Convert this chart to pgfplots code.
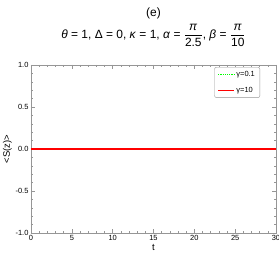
\documentclass[border=0pt]{standalone}
\usepackage{fontspec}
\setmainfont{Liberation Sans}
\usepackage{pgfplots}
\pgfplotsset{compat=1.18}
\definecolor{framegray}{RGB}{150,150,150}
\definecolor{lgreen}{RGB}{0,255,0}
\newcommand{\fr}[2]{$\displaystyle\frac{\mbox{#1}}{\mbox{#2}}$}
\begin{document}
\begin{tikzpicture}
\useasboundingbox (0,0) rectangle (279bp,262bp);
\begin{axis}[
  at={(31bp,29bp)}, anchor=south west,
  scale only axis, width=245bp, height=168bp,
  xmin=0, xmax=30, ymin=-1, ymax=1,
  xtick={0,5,...,30}, ytick={-1,-0.5,0,0.5,1},
  minor xtick={0,1,...,30}, minor ytick={-1,-0.9,...,1},
  xtick pos=both, ytick pos=both,
  tick align=inside,
  major tick length=4bp, minor tick length=2bp,
  axis line style={framegray},
  every tick/.style={framegray, line width=0.4pt},
  tick label style={font=\fontsize{7.5}{8}\selectfont, /pgf/number format/assume math mode=true},
  yticklabel style={/pgf/number format/fixed, /pgf/number format/fixed zerofill, /pgf/number format/precision=1, xshift=1bp},
  xticklabel style={yshift=1.5bp},
  xlabel={t}, ylabel={<S(z)>},
  label style={font=\fontsize{9.5}{10}\selectfont},
  xlabel style={yshift=3bp},
  ylabel style={yshift=-3bp},
  title={\fontsize{12}{14}\selectfont (e)\\[4bp]\fontsize{12}{14}\selectfont \textit{θ} = 1, Δ = 0, \textit{κ} = 1, \textit{α} = \fr{\textit{π}}{2.5}, \textit{β} = \fr{\textit{π}}{10}},
  title style={align=center, at={(0.5,1)}, anchor=south, yshift=9bp},
  legend style={at={(0.935,0.988)}, anchor=north east, draw=framegray, rounded corners=2pt, font=\fontsize{7.5}{9}\selectfont, row sep=5bp},
  legend cell align=left,
  legend image code/.code={\draw[#1] (0cm,0cm) -- (0.55cm,0cm);},
]
\addplot[color=lgreen, densely dotted, line width=1.2pt] coordinates {(0,0) (30,0)};
\addlegendentry{γ=0.1}
\addplot[color=red, line width=2.5pt, forget plot] coordinates {(0,0) (30,0)};
\addplot[color=red, line width=1.3pt] coordinates {(0,0) (30,0)};
\addlegendentry{γ=10}
\end{axis}
\end{tikzpicture}
\end{document}
